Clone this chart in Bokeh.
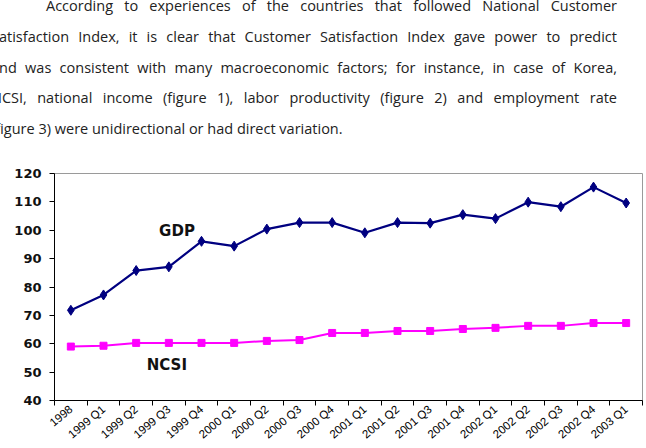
import math
import numpy as np
from bokeh.plotting import figure
from bokeh.models import Div, Range1d, FixedTicker, Label
from bokeh.layouts import column
from bokeh.embed import file_html
from bokeh.resources import INLINE

# ---- data ----
categories = ["1998", "1999 Q1", "1999 Q2", "1999 Q3", "1999 Q4",
              "2000 Q1", "2000 Q2", "2000 Q3", "2000 Q4",
              "2001 Q1", "2001 Q2", "2001 Q3", "2001 Q4",
              "2002 Q1", "2002 Q2", "2002 Q3", "2002 Q4", "2003 Q1"]
gdp = [71.8, 77.2, 85.8, 87.1, 96.1, 94.4, 100.4, 102.7, 102.7,
       99.1, 102.7, 102.5, 105.5, 104.1, 109.9, 108.3, 115.2, 109.6]
ncsi = [59.0, 59.3, 60.3, 60.3, 60.3, 60.3, 61.0, 61.3, 63.8,
        63.8, 64.5, 64.5, 65.2, 65.6, 66.3, 66.3, 67.3, 67.3]
y_ticks = [40, 50, 60, 70, 80, 90, 100, 110, 120]

paragraph = [
    "According to experiences of the countries that followed National Customer",
    "Satisfaction Index, it is clear that Customer Satisfaction Index gave power to predict",
    "and was consistent with many macroeconomic factors; for instance, in case of Korea,",
    "NCSI, national income (figure 1), labor productivity (figure 2) and employment rate",
    "(figure 3) were unidirectional or had direct variation.",
]

# ---- paragraph text (HTML) ----
tops = [-4.0, 27.0, 57.5, 88.0, 118.5]
html_lines = []
for i, (t, line) in enumerate(zip(tops, paragraph)):
    last = i == len(paragraph) - 1
    indent = "text-indent:55px;" if i == 0 else ""
    align = "text-align:left;" if last else "text-align:justify;text-align-last:justify;"
    html_lines.append(
        f'<div style="position:absolute;left:-9px;width:626px;top:{t}px;'
        f'line-height:20px;height:20px;white-space:nowrap;{indent}{align}'
        f'font-family:\'Open Sans\';font-size:14.5px;color:#222;">{line}</div>'
    )
html = ('<div style="position:relative;width:646px;height:150px;overflow:hidden;'
        'background:white;">' + "".join(html_lines) + "</div>")
div = Div(text=html, width=646, height=150, margin=0,
          styles={"overflow": "hidden"})

# ---- chart ----
n = len(categories)
x = np.arange(n) + 0.5

p = figure(width=646, height=298, output_backend="svg", toolbar_location=None,
           x_range=Range1d(0, n), y_range=Range1d(40, 120),
           min_border_left=54, min_border_right=4, min_border_top=23,
           min_border_bottom=47, margin=0)
p.xgrid.visible = False
p.ygrid.visible = False
p.outline_line_color = "#9a9a9a"
p.outline_line_width = 1

p.line(x, gdp, line_color="#000080", line_width=2.2)
p.scatter(x, gdp, marker="diamond", size=10, color="#000080")
p.line(x, ncsi, line_color="#FF00FF", line_width=2)
p.scatter(x, ncsi, marker="square", size=7, color="#FF00FF")

# x axis
p.xaxis.ticker = FixedTicker(ticks=list(x), minor_ticks=list(range(n + 1)))
p.xaxis.major_label_overrides = {float(v): c for v, c in zip(x, categories)}
p.xaxis.major_tick_line_color = None
p.xaxis.minor_tick_line_color = "black"
p.xaxis.minor_tick_out = 5
p.xaxis.minor_tick_in = 0
p.xaxis.major_label_orientation = 0.7
p.xaxis.major_label_text_font = "Liberation Sans"
p.xaxis.major_label_text_font_size = "11.5px"
p.xaxis.major_label_text_color = "black"
p.xaxis.major_label_standoff = 1
p.xaxis.axis_line_color = "black"

# y axis
p.yaxis.ticker = FixedTicker(ticks=y_ticks)
p.yaxis.minor_tick_line_color = None
p.yaxis.major_tick_out = 5
p.yaxis.major_tick_in = 0
p.yaxis.major_tick_line_color = "black"
p.yaxis.axis_line_color = "black"
p.yaxis.major_label_text_font = "DejaVu Sans"
p.yaxis.major_label_text_font_style = "bold"
p.yaxis.major_label_text_font_size = "13px"
p.yaxis.major_label_text_color = "#111"
p.yaxis.major_label_standoff = 8

# series labels
for txt, lx, ly in [("GDP", 3.75, 99.6), ("NCSI", 3.44, 52.6)]:
    p.add_layout(Label(x=lx, y=ly, text=txt, text_font="DejaVu Sans",
                       text_font_style="bold", text_font_size="15px",
                       text_align="center", text_baseline="middle",
                       text_color="#111"))

layout = column(div, p, spacing=0, margin=0)
open("out.html", "w").write(file_html(layout, INLINE))
